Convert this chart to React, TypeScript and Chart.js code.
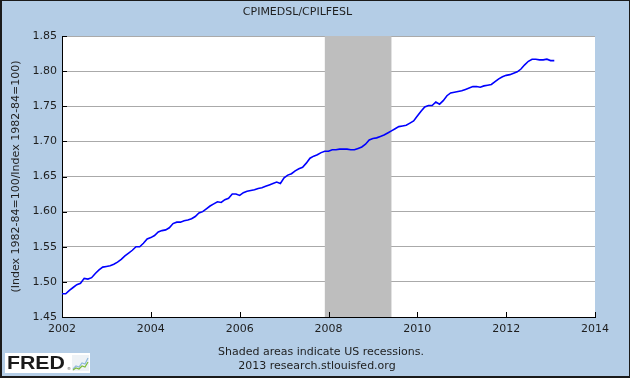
import React, { useEffect, useRef } from "react";
import { Chart, registerables } from "chart.js";

Chart.register(...registerables);

// Monthly ratio CPIMEDSL/CPILFESL, Jan 2002 – Feb 2013
const START_YEAR = 2002;
const values2002 = [1.483, 1.483, 1.488, 1.492, 1.496, 1.498, 1.505, 1.504, 1.506, 1.512, 1.517, 1.521];
const values2003 = [1.522, 1.523, 1.525, 1.528, 1.532, 1.537, 1.541, 1.545, 1.550, 1.550, 1.555, 1.561];
const values2004 = [1.563, 1.566, 1.571, 1.573, 1.574, 1.577, 1.583, 1.585, 1.585, 1.587, 1.588, 1.590];
const values2005 = [1.593, 1.598, 1.600, 1.604, 1.608, 1.611, 1.614, 1.613, 1.617, 1.619, 1.625, 1.625];
const values2006 = [1.623, 1.627, 1.629, 1.630, 1.631, 1.633, 1.634, 1.636, 1.638, 1.640, 1.642, 1.640];
const values2007 = [1.648, 1.652, 1.654, 1.658, 1.661, 1.663, 1.669, 1.676, 1.679, 1.681, 1.684, 1.686];
const values2008 = [1.686, 1.688, 1.688, 1.689, 1.689, 1.689, 1.688, 1.688, 1.690, 1.692, 1.696, 1.702];
const values2009 = [1.704, 1.705, 1.707, 1.709, 1.712, 1.715, 1.718, 1.721, 1.722, 1.723, 1.726, 1.729];
const values2010 = [1.736, 1.743, 1.749, 1.751, 1.751, 1.756, 1.753, 1.758, 1.765, 1.769, 1.770, 1.771];
const values2011 = [1.772, 1.774, 1.776, 1.778, 1.778, 1.777, 1.779, 1.780, 1.781, 1.785, 1.789, 1.792];
const values2012 = [1.794, 1.795, 1.797, 1.799, 1.803, 1.809, 1.814, 1.817, 1.817, 1.816, 1.816, 1.817];
const values2013 = [1.815, 1.815];

const recessionStarts = [2007.917];
const recessionEnds = [2009.417];

const xTickValues = [2002, 2004, 2006, 2008, 2010, 2012, 2014];
const yTickValues = [1.45, 1.5, 1.55, 1.6, 1.65, 1.7, 1.75, 1.8, 1.85];

const TITLE = "CPIMEDSL/CPILFESL";
const Y_TITLE = "(Index 1982-84=100/Index 1982-84=100)";
const FOOTER1 = "Shaded areas indicate US recessions.";
const FOOTER2 = "2013 research.stlouisfed.org";

const BG = "#b4cde6";
const TEXT = "#1e1e1e";
const FONT = "'DejaVu Sans', Verdana, sans-serif";

export default function App() {
  const ref = useRef<HTMLCanvasElement>(null);

  useEffect(() => {
    const all = [
      ...values2002, ...values2003, ...values2004, ...values2005, ...values2006, ...values2007,
      ...values2008, ...values2009, ...values2010, ...values2011, ...values2012, ...values2013,
    ];
    const data = all.map((v, i) => ({ x: START_YEAR + i / 12, y: v }));

    const plotBg = {
      id: "plotBg",
      beforeDraw(chart: any) {
        const { ctx, chartArea } = chart;
        ctx.save();
        ctx.fillStyle = "#ffffff";
        ctx.fillRect(chartArea.left, chartArea.top, chartArea.right - chartArea.left, chartArea.bottom - chartArea.top);
        ctx.restore();
      },
    };

    const recession = {
      id: "recession",
      beforeDatasetsDraw(chart: any) {
        const { ctx, chartArea, scales } = chart;
        const x = scales.x;
        ctx.save();
        ctx.fillStyle = "#bebebe";
        recessionStarts.forEach((s, i) => {
          const x0 = x.getPixelForValue(s);
          const x1 = x.getPixelForValue(recessionEnds[i]);
          ctx.fillRect(x0, chartArea.top, x1 - x0, chartArea.bottom - chartArea.top);
        });
        ctx.restore();
      },
    };

    const innerTicks = {
      id: "innerTicks",
      afterDraw(chart: any) {
        const { ctx, chartArea, scales } = chart;
        ctx.save();
        ctx.strokeStyle = "#000";
        ctx.lineWidth = 1;
        ctx.beginPath();
        yTickValues.forEach((v) => {
          const py = Math.round(scales.y.getPixelForValue(v)) + 0.5;
          ctx.moveTo(chartArea.left, py);
          ctx.lineTo(chartArea.left + 5, py);
        });
        xTickValues.forEach((v) => {
          const px = Math.round(scales.x.getPixelForValue(v)) + 0.5;
          ctx.moveTo(px, chartArea.bottom);
          ctx.lineTo(px, chartArea.bottom - 5);
        });
        ctx.stroke();
        ctx.restore();
      },
    };

    const chart = new Chart(ref.current!, {
      type: "line",
      data: {
        datasets: [
          {
            data,
            borderColor: "#0000ff",
            borderWidth: 1.6,
            pointRadius: 0,
            tension: 0,
            fill: false,
          },
        ],
      },
      options: {
        animation: false,
        responsive: false,
        maintainAspectRatio: false,
        events: [],
        layout: { padding: { left: 0, right: 35, top: 0, bottom: 41 } },
        plugins: {
          legend: { display: false },
          tooltip: { enabled: false },
          title: {
            display: true,
            text: TITLE,
            color: TEXT,
            font: { family: FONT, size: 11, weight: "normal" },
            padding: { top: 6, bottom: 16.8 },
          },
        },
        scales: {
          x: {
            type: "linear",
            min: 2002,
            max: 2014,
            afterFit(s: any) {
              s.height = 20;
            },
            afterBuildTicks(s: any) {
              s.ticks = xTickValues.map((v) => ({ value: v }));
            },
            ticks: {
              color: TEXT,
              font: { family: FONT, size: 11 },
              padding: 6,
              maxRotation: 0,
              autoSkip: false,
              callback: (v: any) => String(v),
            },
            grid: { display: false, drawTicks: false },
            border: { display: true, color: "#000", width: 1 },
          },
          y: {
            type: "linear",
            min: 1.45,
            max: 1.85,
            afterFit(s: any) {
              s.width = 62;
            },
            afterBuildTicks(s: any) {
              s.ticks = yTickValues.map((v) => ({ value: v }));
            },
            ticks: {
              color: TEXT,
              font: { family: FONT, size: 11 },
              padding: 5,
              autoSkip: false,
              callback: (v: any) => Number(v).toFixed(2),
            },
            grid: { color: "#aaaaaa", lineWidth: 1, drawTicks: false },
            border: { display: true, color: "#000", width: 1 },
            title: {
              display: true,
              text: Y_TITLE,
              color: TEXT,
              font: { family: FONT, size: 11 },
              padding: { top: 10, bottom: 0 },
            },
          },
        },
      },
      plugins: [plotBg, recession, innerTicks],
    });
    return () => chart.destroy();
  }, []);

  return (
    <div
      style={{
        position: "absolute",
        left: 0,
        top: 0,
        width: 630,
        height: 378,
        background: BG,
        overflow: "hidden",
        fontFamily: FONT,
      }}
    >
      <canvas ref={ref} width={630} height={378} style={{ position: "absolute", left: 0, top: 0, width: 630, height: 378 }} />
      <div
        style={{
          position: "absolute",
          left: 171,
          width: 300,
          top: 344,
          lineHeight: "16px",
          fontSize: 11,
          color: TEXT,
          textAlign: "center",
          whiteSpace: "nowrap",
        }}
      >
        {FOOTER1}
      </div>
      <div
        style={{
          position: "absolute",
          left: 167,
          width: 300,
          top: 358,
          lineHeight: "16px",
          fontSize: 11,
          color: TEXT,
          textAlign: "center",
          whiteSpace: "nowrap",
        }}
      >
        {FOOTER2}
      </div>
      <div
        style={{
          position: "absolute",
          left: 5,
          top: 353,
          width: 85,
          height: 20,
          background: "#ffffff",
        }}
      >
        <span
          style={{
            position: "absolute",
            left: 2,
            top: 0,
            fontFamily: "'Liberation Sans', Arial, sans-serif",
            fontWeight: 700,
            fontSize: 19,
            lineHeight: "20px",
            color: "#1a1a1a",
            transform: "scaleX(1.12)",
            transformOrigin: "left center",
            whiteSpace: "nowrap",
          }}
        >
          FRED
        </span>
        <span
          style={{
            position: "absolute",
            left: 62,
            top: 13,
            fontSize: 4,
            lineHeight: "5px",
            color: "#444",
          }}
        >
          ®
        </span>
        <svg width="17" height="16" viewBox="0 0 17 16" style={{ position: "absolute", left: 67, top: 2 }}>
          <rect x="0" y="0" width="17" height="16" fill="#eef2f6" />
          <polyline points="1,14 4,11 7,12 10,8 13,9 16,3" fill="none" stroke="#8fb8dc" strokeWidth="1.2" />
          <polyline points="1,15 4,13 7,14 10,11 13,12 16,7" fill="none" stroke="#7dbb3c" strokeWidth="1.2" />
        </svg>
      </div>
      <div
        style={{
          position: "absolute",
          left: 0,
          top: 0,
          width: 630,
          height: 378,
          boxSizing: "border-box",
          borderStyle: "solid",
          borderColor: "#1a1a1a",
          borderWidth: "1px 1px 2px 2px",
          pointerEvents: "none",
        }}
      />
    </div>
  );
}
